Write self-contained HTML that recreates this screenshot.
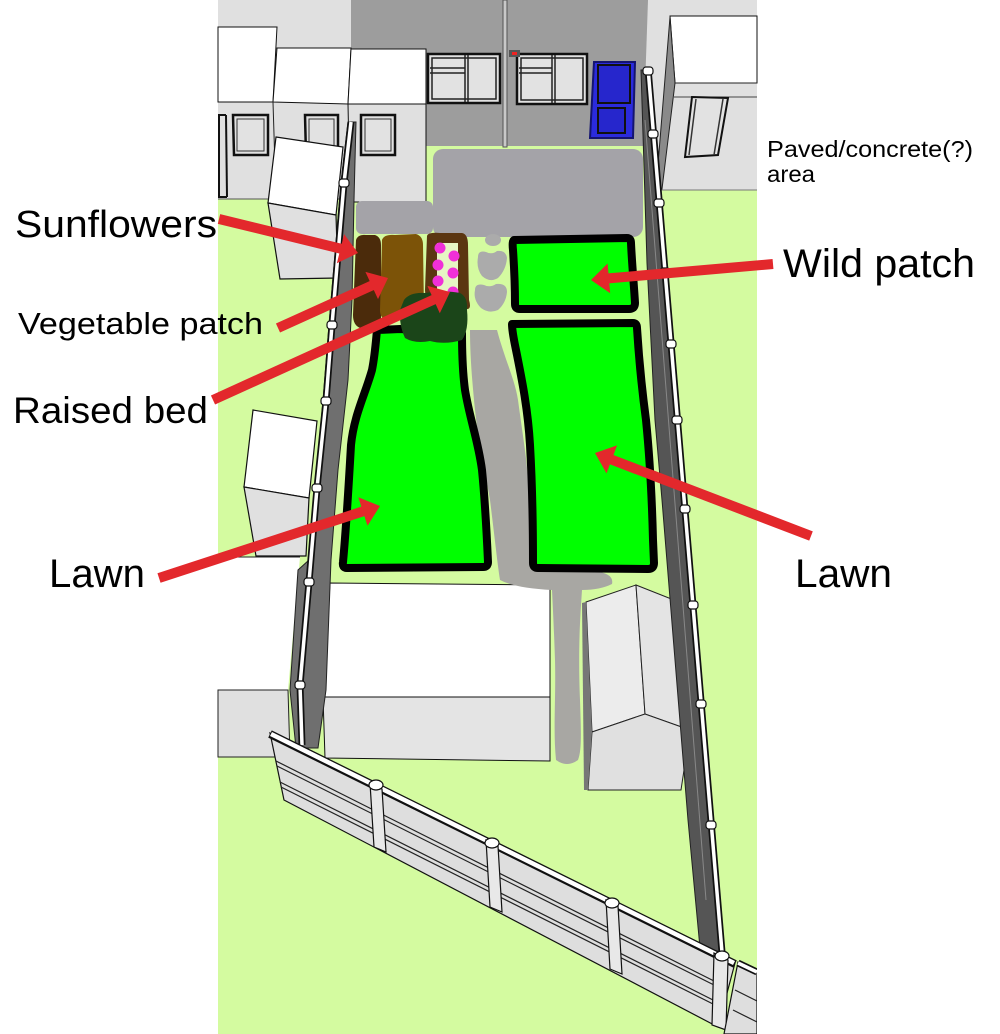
<!DOCTYPE html>
<html><head><meta charset="utf-8"><style>html,body{margin:0;padding:0;background:#fff}svg{display:block}</style></head>
<body>
<svg width="1000" height="1034" viewBox="0 0 1000 1034" xmlns="http://www.w3.org/2000/svg">
<rect width="1000" height="1034" fill="#fff"/>
<rect x="218" y="0" width="539" height="1034" fill="#d4fba0"/>

<!-- left buildings -->
<rect x="218" y="0" width="133" height="199" fill="#e0e0e0"/>
<rect x="351" y="0" width="297" height="146" fill="#9d9d9d"/>
<polygon points="648,0 757,0 757,190 660,190 643,146" fill="#e0e0e0"/>
<polygon points="218,27 277,27 273,102 218,102" fill="#fff" stroke="#111" stroke-width="1"/>
<polygon points="277,48 351,48 348,104 273,102" fill="#fff" stroke="#111" stroke-width="1"/>
<polygon points="351,49 426,49 426,104 348,104" fill="#fff" stroke="#111" stroke-width="1"/>
<polygon points="348,104 426,104 426,202 350,202" fill="#e0e0e0" stroke="#111" stroke-width="1"/>
<line x1="218" y1="199" x2="350" y2="199" stroke="#555" stroke-width="1"/>
<line x1="273" y1="102" x2="276" y2="199" stroke="#222" stroke-width="1"/>
<g fill="#e2e2e2" stroke="#111" stroke-width="2.5">
<polygon points="233,115 268,115 268,155 234,155"/>
<polygon points="305,115 338,115 338,155 306,155"/>
<polygon points="361,115 395,115 395,155 361,155"/>
</g>
<g fill="none" stroke="#111" stroke-width="2">
<line x1="219" y1="115" x2="219" y2="197"/>
<line x1="226" y1="115" x2="227" y2="197"/>
<line x1="218" y1="115" x2="226" y2="115"/>
<line x1="218" y1="197" x2="227" y2="197"/>
</g>
<g fill="none" stroke="#333" stroke-width="1">
<rect x="237" y="119" width="27" height="32"/>
<rect x="309" y="119" width="25" height="32"/>
<rect x="365" y="119" width="26" height="32"/>
</g>

<!-- back wall details -->
<g stroke="#111" stroke-width="2.5" fill="#e2e2e2">
<rect x="428" y="54" width="72" height="49"/>
<rect x="517" y="54" width="70" height="50"/>
</g>
<g stroke="#222" stroke-width="1.5" fill="none">
<line x1="465" y1="55" x2="465" y2="102"/><line x1="468" y1="55" x2="468" y2="102"/>
<line x1="430" y1="68" x2="465" y2="68"/><line x1="430" y1="73" x2="465" y2="73"/>
<rect x="432" y="58" width="64" height="41"/>
<line x1="552" y1="55" x2="552" y2="103"/><line x1="555" y1="55" x2="555" y2="103"/>
<line x1="519" y1="68" x2="552" y2="68"/><line x1="519" y1="73" x2="552" y2="73"/>
<rect x="521" y="58" width="62" height="42"/>
</g>
<rect x="503" y="0" width="4" height="147" fill="#c8c8c8" stroke="#555" stroke-width="1"/>
<rect x="509" y="50" width="11" height="7" fill="#555"/>
<rect x="512" y="52" width="5" height="3" fill="#e22"/>
<polygon points="594,62 635,62 633,138 590,138" fill="#2b2bdd" stroke="#141470" stroke-width="2"/>
<rect x="598" y="65" width="32" height="38" fill="#2626cc" stroke="#111" stroke-width="2"/>
<rect x="598" y="108" width="27" height="25" fill="#2626cc" stroke="#111" stroke-width="2"/>

<!-- right building -->
<polygon points="670,16 757,16 757,83 675,83" fill="#fff" stroke="#111" stroke-width="1"/>
<polygon points="670,17 675,83 662,189 656,189" fill="#8a8a8a" stroke="#222" stroke-width="1"/>
<line x1="675" y1="83" x2="757" y2="83" stroke="#222" stroke-width="1"/>
<line x1="674" y1="97" x2="757" y2="97" stroke="#444" stroke-width="1"/>
<line x1="660" y1="190" x2="757" y2="190" stroke="#777" stroke-width="1"/>
<polygon points="692,97 728,98 718,155 685,157" fill="#e2e2e2" stroke="#111" stroke-width="2"/>
<line x1="696" y1="99" x2="689" y2="155" stroke="#333" stroke-width="1.5"/>
<line x1="723" y1="99" x2="714" y2="155" stroke="#333" stroke-width="1.5"/>

<!-- shed D top-left -->
<polygon points="276,137 343,147 336,215 268,203" fill="#fff" stroke="#111" stroke-width="1.2"/>
<polygon points="268,203 336,215 338,278 280,279" fill="#e0e0e0" stroke="#111" stroke-width="1.2"/>

<!-- small shed left -->
<polygon points="253,410 317,421 309,498 244,487" fill="#fff" stroke="#111" stroke-width="1.2"/>
<polygon points="244,487 309,498 306,556 256,556" fill="#e0e0e0" stroke="#111" stroke-width="1.2"/>

<!-- bottom-left box -->
<polygon points="218,557 300,557 288,690 218,690" fill="#fff"/>
<line x1="218" y1="557" x2="300" y2="557" stroke="#222" stroke-width="1"/>
<polygon points="218,690 288,690 290,757 218,757" fill="#e0e0e0" stroke="#222" stroke-width="1"/>

<!-- big box -->
<polygon points="330,583 550,585 550,697 323,697" fill="#fff" stroke="#111" stroke-width="1"/>
<polygon points="323,697 550,697 550,761 325,758" fill="#e4e4e4" stroke="#111" stroke-width="1"/>

<!-- paved area -->
<rect x="433" y="149" width="210" height="88" rx="10" fill="#a4a3a8"/>
<rect x="356" y="201" width="77" height="33" rx="6" fill="#a4a3a8"/>

<!-- gray path -->
<path d="M470,330 L497,330 C505,360 515,380 518,400 C522,430 527,460 528,480 C532,510 536,540 538,563 L540,572 L600,572 Q614,575 612,584 Q600,590 582,590 C580,620 578,650 580,700 C581,730 582,750 578,760 Q567,768 556,760 C553,730 556,700 555,660 C554,630 553,610 552,590 Q515,588 500,580 C497,560 495,540 490,500 C485,470 478,440 475,410 C472,380 470,355 470,330 Z" fill="#a8a7a3"/>
<g fill="#ababab">
<ellipse cx="493" cy="240" rx="8" ry="6"/>
<path d="M478,257 Q478,250 486,252 Q492,255 497,251 Q506,250 507,258 Q506,270 498,278 Q490,283 482,276 Q476,268 478,257 Z"/>
<path d="M475,290 Q475,283 484,285 Q490,288 496,284 Q507,283 507,292 Q506,303 498,310 Q489,314 481,308 Q473,300 475,290 Z"/>
</g>

<!-- beds -->
<path d="M356,240 Q358,234 366,235 L375,235 Q381,237 381,245 L381,322 Q378,329 368,328 L360,328 Q353,325 353,315 Z" fill="#4b2b0b"/>
<path d="M382,240 Q384,234 395,235 L416,234 Q423,236 423,245 L424,310 Q422,318 414,318 L386,320 Q380,318 380,310 Z" fill="#7c5308"/>
<path d="M427,236 Q428,232 440,233 L462,233 Q468,234 468,245 L469,300 Q472,310 466,309 L430,306 Q425,300 425,290 Z" fill="#5b3611"/>
<rect x="437" y="243" width="21" height="50" fill="#e6f6c4"/>
<g fill="#f030d8">
<circle cx="440" cy="248" r="5.5"/><circle cx="454" cy="256" r="5.5"/>
<circle cx="438" cy="265" r="5.5"/><circle cx="453" cy="273" r="5.5"/>
<circle cx="438" cy="281" r="5.5"/><circle cx="453" cy="292" r="5.5"/>
</g>

<!-- lawns -->
<g fill="#00ff00" stroke="#000" stroke-width="8" stroke-linejoin="round">
<path d="M377,330 L400,329 L462,333 C462,360 463,375 465,390 C470,420 478,440 482,470 C485,500 487,540 488,562 Q488,567 483,567 L347,568 Q342,568 343,562 C346,530 349,480 351,445 C354,415 365,395 372,370 C375,355 376,340 377,330 Z"/>
<path d="M512,324 L633,323 Q637,323 637,328 C639,360 642,390 646,420 C650,460 652,500 653,540 L654,563 Q654,569 648,569 L538,568 Q533,568 533,563 C533,530 532,480 530,445 C528,410 522,380 517,355 C514,340 512,332 512,324 Z"/>
<path d="M514,240 L627,238 Q631,238 631,243 C632,265 634,285 635,303 Q635,309 629,309 L520,309 Q515,309 515,304 C515,285 514,265 513,250 Q512,241 514,240 Z"/>
</g>
<path d="M404,300 Q410,292 425,293 Q445,290 460,293 Q468,297 467,310 Q469,330 462,340 Q445,345 430,341 Q415,344 405,338 Q399,325 400,310 Z" fill="#1b4519"/>

<!-- right shed -->
<polygon points="586,602 636,585 645,714 592,732" fill="#ececec" stroke="#222" stroke-width="1"/>
<polygon points="636,585 679,602 690,730 645,714" fill="#e4e4e4" stroke="#222" stroke-width="1"/>
<polygon points="592,732 645,714 690,730 681,790 588,790" fill="#e0e0e0" stroke="#222" stroke-width="1"/>
<polygon points="582,603 586,602 592,732 588,790 584,790" fill="#777"/>

<!-- left fence -->
<polygon points="356,122 354,200 352,300 348,380 338,470 331,560 326,690 318,748 296,748 290,690 298,570 309,560 315,488 323,401 329,325 341,183 348,122" fill="#6f6f6f" stroke="#222" stroke-width="1"/>
<polyline points="351,122 344,183 332,325 326,401 317,488 309,582 300,685 302,745" fill="none" stroke="#111" stroke-width="7" stroke-linejoin="round"/>
<polyline points="351,122 344,183 332,325 326,401 317,488 309,582 300,685 302,745" fill="none" stroke="#fff" stroke-width="3.5" stroke-linejoin="round"/>
<g fill="#fff" stroke="#111" stroke-width="1.2">
<rect x="339" y="179" width="10" height="8" rx="3"/>
<rect x="327" y="321" width="10" height="8" rx="3"/>
<rect x="321" y="397" width="10" height="8" rx="3"/>
<rect x="312" y="484" width="10" height="8" rx="3"/>
<rect x="304" y="578" width="10" height="8" rx="3"/>
<rect x="295" y="681" width="10" height="8" rx="3"/>
</g>

<!-- right fence -->
<polygon points="641,70 649,70 722,952 700,948 688,820 662,500 655,420 647,263" fill="#555" stroke="#222" stroke-width="1"/>
<line x1="645" y1="120" x2="706" y2="900" stroke="#888" stroke-width="1"/>
<line x1="648" y1="68" x2="722" y2="952" stroke="#111" stroke-width="7"/>
<line x1="648" y1="68" x2="722" y2="952" stroke="#fff" stroke-width="3.5"/>
<g fill="#fff" stroke="#111" stroke-width="1.2">
<rect x="643" y="67" width="10" height="8" rx="3"/>
<rect x="648" y="130" width="10" height="8" rx="3"/>
<rect x="654" y="199" width="10" height="8" rx="3"/>
<rect x="660" y="268" width="10" height="8" rx="3"/>
<rect x="666" y="340" width="10" height="8" rx="3"/>
<rect x="672" y="416" width="10" height="8" rx="3"/>
<rect x="680" y="505" width="10" height="8" rx="3"/>
<rect x="688" y="601" width="10" height="8" rx="3"/>
<rect x="696" y="700" width="10" height="8" rx="3"/>
<rect x="706" y="821" width="10" height="8" rx="3"/>
</g>

<!-- bottom fence -->
<polygon points="270,733 735,963 718,1027 284,800" fill="#dedede" stroke="#111" stroke-width="1.2"/>
<g stroke="#222" stroke-width="1.2">
<line x1="276" y1="761" x2="714" y2="981"/>
<line x1="277" y1="766" x2="716" y2="986"/>
<line x1="280" y1="782" x2="717" y2="1002"/>
<line x1="281" y1="787" x2="719" y2="1007"/>
</g>
<line x1="270" y1="734" x2="735" y2="964" stroke="#111" stroke-width="8"/>
<line x1="271" y1="734" x2="734" y2="963" stroke="#fff" stroke-width="4.5"/>
<g fill="#e8e8e8" stroke="#111" stroke-width="1.2">
<polygon points="370,783 382,789 386,852 374,847"/>
<polygon points="486,840 498,846 502,912 490,907"/>
<polygon points="606,900 618,906 622,974 610,969"/>
<polygon points="714,953 728,960 726,1030 712,1025"/>
</g>
<g fill="#fff" stroke="#111" stroke-width="1.2">
<ellipse cx="376" cy="785" rx="7" ry="5"/>
<ellipse cx="492" cy="843" rx="7" ry="5"/>
<ellipse cx="612" cy="903" rx="7" ry="5"/>
<ellipse cx="722" cy="956" rx="7" ry="5"/>
</g>
<polygon points="738,962 757,971 757,1034 724,1034" fill="#dedede" stroke="#111" stroke-width="1.2"/>
<line x1="738" y1="963" x2="757" y2="972" stroke="#111" stroke-width="7"/>
<line x1="738" y1="963" x2="757" y2="972" stroke="#fff" stroke-width="3.5"/>
<g stroke="#222" stroke-width="1.2">
<line x1="735" y1="990" x2="757" y2="1001"/>
<line x1="733" y1="1010" x2="757" y2="1022"/>
</g>
<rect x="757" y="960" width="243" height="74" fill="#fff"/>

<!-- arrows -->
<g stroke="#e3282c" stroke-width="10" stroke-linecap="butt">
<line x1="219" y1="219" x2="342" y2="249"/>
<line x1="278" y1="328" x2="373" y2="285"/>
<line x1="213" y1="400" x2="435" y2="299"/>
<line x1="773" y1="264" x2="607" y2="278.5"/>
<line x1="159" y1="578" x2="364" y2="511"/>
<line x1="811" y1="536" x2="610" y2="459"/>
</g>
<g fill="#e3282c">
<polygon points="358,253 336.9,263.3 344.1,234.1"/>
<polygon points="388,278 378,299.1 365.4,271.9"/>
<polygon points="450,292 439.8,313.2 427.4,285.9"/>
<polygon points="591,280 607.6,263.5 610.2,293.3"/>
<polygon points="380,506 367.5,525.8 358.3,497.2"/>
<polygon points="595,453 617.1,445.4 606.5,473.4"/>
</g>

<!-- labels -->
<g font-family="'Liberation Sans', Arial, sans-serif" fill="#000">
<text x="15" y="237" font-size="38" textLength="202" lengthAdjust="spacingAndGlyphs">Sunflowers</text>
<text x="18" y="334" font-size="31" textLength="245" lengthAdjust="spacingAndGlyphs">Vegetable patch</text>
<text x="13" y="423" font-size="37" textLength="195" lengthAdjust="spacingAndGlyphs">Raised bed</text>
<text x="49" y="587" font-size="40" textLength="96" lengthAdjust="spacingAndGlyphs">Lawn</text>
<text x="795" y="587" font-size="40" textLength="97" lengthAdjust="spacingAndGlyphs">Lawn</text>
<text x="783" y="277" font-size="40" textLength="192" lengthAdjust="spacingAndGlyphs">Wild patch</text>
<text x="767" y="157" font-size="23" textLength="206" lengthAdjust="spacingAndGlyphs">Paved/concrete(?)</text>
<text x="767" y="182" font-size="23" textLength="48" lengthAdjust="spacingAndGlyphs">area</text>
</g>
</svg>
</body></html>
